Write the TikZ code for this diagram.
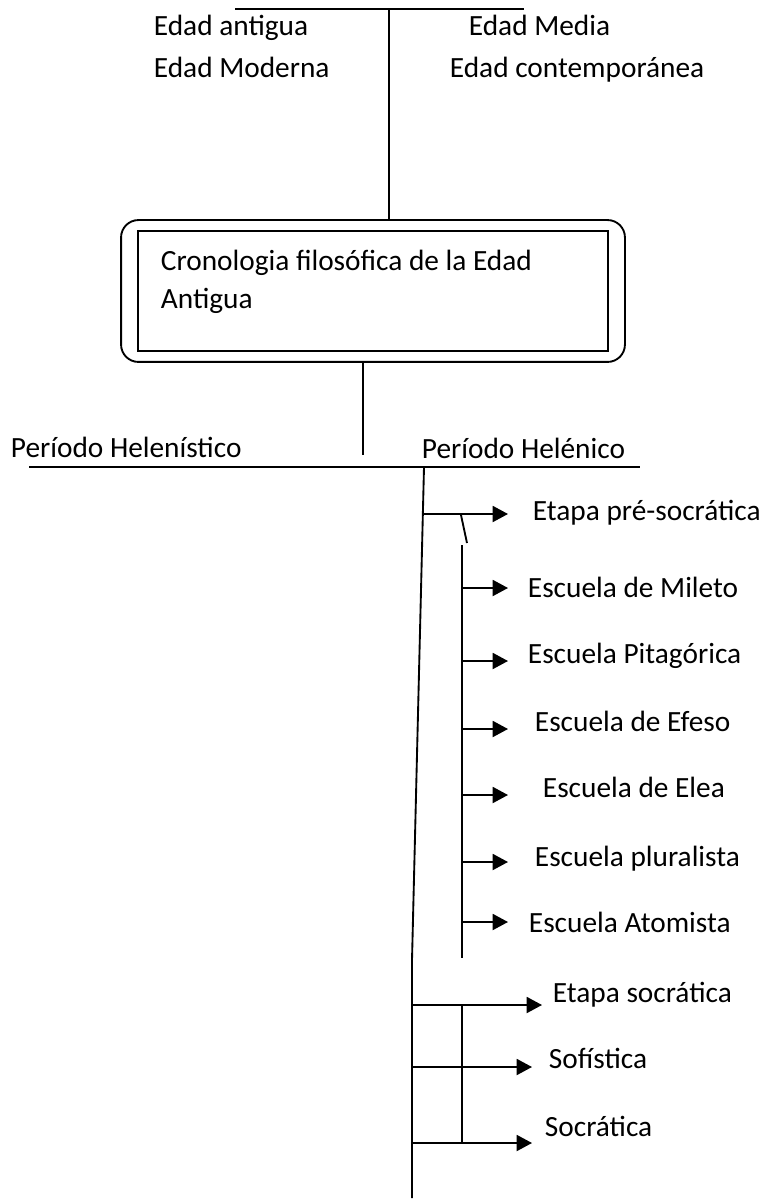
\documentclass[tikz,border=0pt]{standalone}
\usepackage{fontspec}
\setmainfont{Carlito}
\usetikzlibrary{arrows.meta,positioning,fit}

\begin{document}
\begin{tikzpicture}[
	x=0.75pt, y=-0.75pt,
	line width=1.4pt,
	font=\fontsize{22}{28.5}\selectfont,
		etiqueta/.style={
			anchor=base west,
			inner sep=0pt
		},
		caja/.style={
			rectangle,
			draw,
			minimum width=352.5pt,
			minimum height=90pt,
			inner sep=0pt
		},
		marco/.style={
			rectangle,
			draw,
			rounded corners=13pt,
			inner xsep=12pt,
			inner ysep=7.5pt
		},
		flecha/.style={
			-{Triangle[length=11.5pt,width=12pt]}
		}
	]
	\useasboundingbox (0,0) rectangle (767,1201);

	% Edades
	\coordinate (edadIzq) at (235,9);
	\coordinate (edadDer) at (524,9);
	\coordinate (edadEje) at (389,9);
	\draw (edadIzq) -- (edadDer);
	\node[etiqueta] (antigua) at (153,36) {Edad antigua};
	\node[etiqueta] (media) at (468,36) {Edad Media};
	\node[etiqueta] (moderna) at (153,78) {Edad Moderna};
	\node[etiqueta] (contemp) at (449,78) {Edad contemporánea};

	% Caja del titulo
	\node[caja] (cajaInt) at (373,291) {};
	\node[marco, fit=(cajaInt)] (cajaExt) {};
	\node[etiqueta, align=left] (titulo) at (160,309) {Cronologia filosófica de la Edad\\Antigua};
	\draw (edadEje) -- (edadEje |- cajaExt.north);

	% Periodos
	\coordinate (bajo) at (363,455);
	\draw (bajo |- cajaExt.south) -- (bajo);
	\node[etiqueta] (helenistico) at (10,457) {Período Helenístico};
	\node[etiqueta] (helenico) at (421,458) {Período Helénico};
	\coordinate (perIzq) at (29,467);
	\coordinate (perDer) at (640,467);
	\draw (perIzq) -- (perDer);

	% Tronco del periodo helenico
	\coordinate (troncoA) at (424,467);
	\coordinate (troncoB) at (412,960);
	\coordinate (troncoC) at (412,1198);
	\draw (troncoA) -- (troncoB) -- (troncoC);

	% Etapa pre-socratica
	\coordinate (oPre) at (423,514);
	\coordinate (tPre) at (508,514);
	\draw[flecha] (oPre) -- (tPre);
	\node[etiqueta] (presocratica) at (532,520) {Etapa pré-socrática};
	\coordinate (marcaA) at (461,515);
	\coordinate (marcaB) at (467,543);
	\draw (marcaA) -- (marcaB);
	\coordinate (subTop) at (462,545);
	\coordinate (subBot) at (462,958);
	\draw (subTop) -- (subBot);

	% Escuelas
	\coordinate (tMileto) at (508,588);
	\draw[flecha] (subTop |- tMileto) -- (tMileto);
	\node[etiqueta] (mileto) at (527,597) {Escuela de Mileto};
	\coordinate (tPitagorica) at (508,661);
	\draw[flecha] (subTop |- tPitagorica) -- (tPitagorica);
	\node[etiqueta] (pitagorica) at (527,663) {Escuela Pitagórica};
	\coordinate (tEfeso) at (508,729);
	\draw[flecha] (subTop |- tEfeso) -- (tEfeso);
	\node[etiqueta] (efeso) at (534,731) {Escuela de Efeso};
	\coordinate (tElea) at (508,795);
	\draw[flecha] (subTop |- tElea) -- (tElea);
	\node[etiqueta] (elea) at (542,797) {Escuela de Elea};
	\coordinate (tPluralista) at (508,862);
	\draw[flecha] (subTop |- tPluralista) -- (tPluralista);
	\node[etiqueta] (pluralista) at (534,866) {Escuela pluralista};
	\coordinate (tAtomista) at (508,922);
	\draw[flecha] (subTop |- tAtomista) -- (tAtomista);
	\node[etiqueta] (atomista) at (528,932) {Escuela Atomista};

	% Etapa socratica
	\coordinate (tSocEtapa) at (542,1005);
	\coordinate (tSofistica) at (532,1067);
	\coordinate (tSocratica) at (532,1143);
	\draw[flecha] (troncoB |- tSocEtapa) -- (tSocEtapa);
	\draw[flecha] (troncoB |- tSofistica) -- (tSofistica);
	\draw[flecha] (troncoB |- tSocratica) -- (tSocratica);
	\draw (subTop |- tSocEtapa) -- (subTop |- tSocratica);
	\node[etiqueta] (socEtapa) at (552,1002) {Etapa socrática};
	\node[etiqueta] (sofistica) at (548,1068) {Sofística};
	\node[etiqueta] (socratica) at (544,1136) {Socrática};
\end{tikzpicture}
\end{document}
